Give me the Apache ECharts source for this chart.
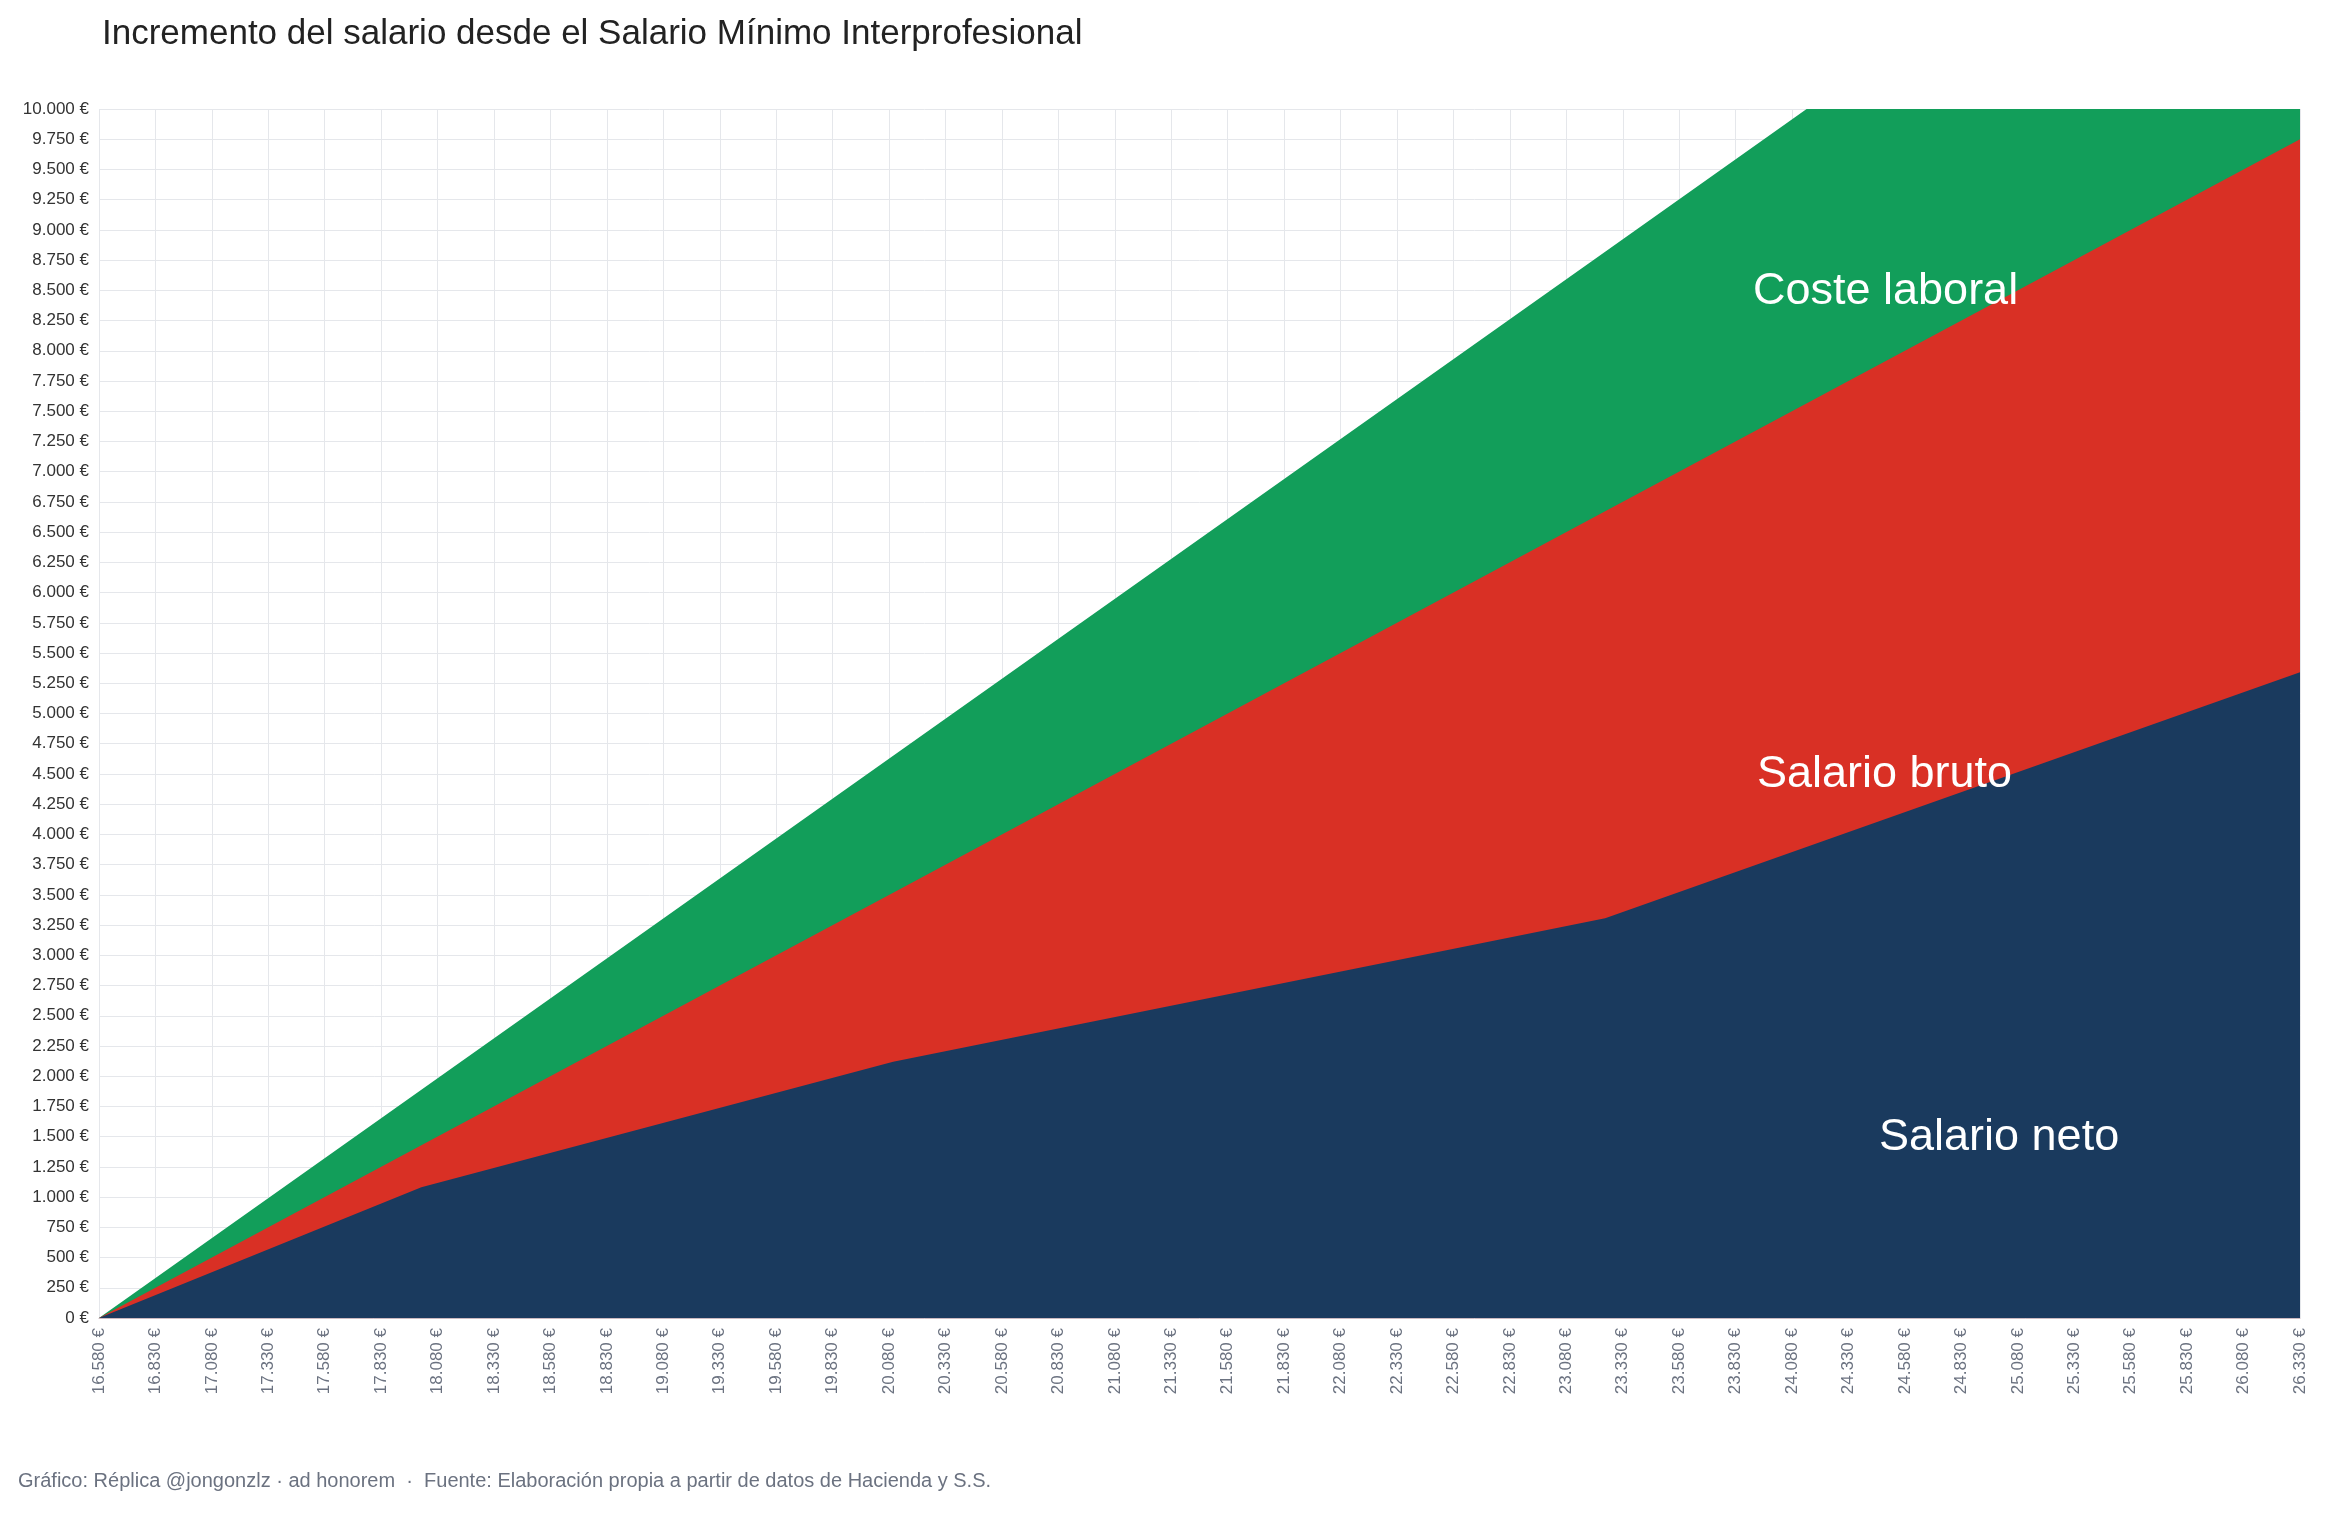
<!DOCTYPE html>
<html lang="es">
<head>
<meta charset="UTF-8">
<title>Incremento del salario desde el SMI</title>
<script src="https://cdn.jsdelivr.net/npm/echarts@6/dist/echarts.min.js"></script>
<style>
  html, body { margin: 0; padding: 0; background: #fff; }
  #main { width: 2325px; height: 1513px; }
</style>
</head>
<body>
<div id="main"></div>
<script>
// Salario Mínimo Interprofesional anual (punto de partida del eje X)
var SMI = 16580;

// incremento del salario bruto sobre el SMI (eje X) en los puntos de quiebre
var incremento = [0, 1428, 3518, 6672, 9750];

// incremento de cada magnitud (€)
var costeLaboral = [0, 1888, 4651, 8820, 12890];
var salarioBruto = [0, 1428, 3518, 6672, 9750];
var salarioNeto  = [0, 1082, 2120, 3306, 5341];

var colores = { coste: '#129e5a', bruto: '#d93025', neto: '#1a3a5e' };

function euros(v) {
    return String(Math.round(v)).replace(/\B(?=(\d{3})+(?!\d))/g, '.') + ' €';
}

function pares(ys) {
    return incremento.map(function (x, i) { return [x, ys[i]]; });
}

var chartDom = document.getElementById('main');
var myChart = echarts.init(chartDom);
var FONT = 'Liberation Sans, Arial, sans-serif';

function area(name, ys, color) {
    return {
        name: name,
        type: 'line',
        data: pares(ys),
        showSymbol: false,
        symbol: 'none',
        lineStyle: { width: 0 },
        areaStyle: { color: color, opacity: 1 },
        itemStyle: { color: color },
        clip: true,
        silent: true
    };
}

var option = {
    backgroundColor: '#fff',
    animation: false,
    textStyle: { fontFamily: FONT },
    grid: { left: 99, right: 25, top: 109, bottom: 195 },
    title: {
        text: 'Incremento del salario desde el Salario Mínimo Interprofesional',
        left: 97,
        top: 12,
        textStyle: { fontFamily: FONT, fontSize: 35, fontWeight: 'normal', color: '#222' }
    },
    xAxis: {
        type: 'value',
        min: 0,
        max: 9750,
        interval: 250,
        axisLine: { show: true, lineStyle: { color: '#cdb9c0', width: 1 } },
        axisTick: { show: false },
        splitLine: { show: true, lineStyle: { color: '#e5e7eb', width: 1 } },
        axisLabel: {
            rotate: 90,
            margin: 10,
            color: '#6b7280',
            fontSize: 17,
            fontFamily: FONT,
            showMinLabel: true,
            showMaxLabel: true,
            formatter: function (v) { return euros(v + SMI); }
        }
    },
    yAxis: {
        type: 'value',
        min: 0,
        max: 10000,
        interval: 250,
        axisLine: { show: false },
        axisTick: { show: false },
        splitLine: { show: true, lineStyle: { color: '#e5e7eb', width: 1 } },
        axisLabel: {
            margin: 10,
            color: '#333',
            fontSize: 17,
            fontFamily: FONT,
            formatter: function (v) { return euros(v); }
        }
    },
    series: [
        area('Coste laboral', costeLaboral, colores.coste),
        area('Salario bruto', salarioBruto, colores.bruto),
        area('Salario neto', salarioNeto, colores.neto)
    ],
    graphic: [
        {
            type: 'text', left: 1753, top: 269, z: 100,
            style: { text: 'Coste laboral', fill: '#fff', font: '45px ' + FONT }
        },
        {
            type: 'text', left: 1757, top: 752, z: 100,
            style: { text: 'Salario bruto', fill: '#fff', font: '45px ' + FONT }
        },
        {
            type: 'text', left: 1879, top: 1115, z: 100,
            style: { text: 'Salario neto', fill: '#fff', font: '45px ' + FONT }
        },
        {
            type: 'text', left: 18, top: 1471,
            style: {
                text: 'Gráfico: Réplica @jongonzlz · ad honorem  ·  Fuente: Elaboración propia a partir de datos de Hacienda y S.S.',
                fill: '#6b7280',
                font: '20px ' + FONT
            }
        }
    ]
};

myChart.setOption(option);
window.addEventListener('resize', function () {
    myChart.resize();
});
</script>
</body>
</html>
